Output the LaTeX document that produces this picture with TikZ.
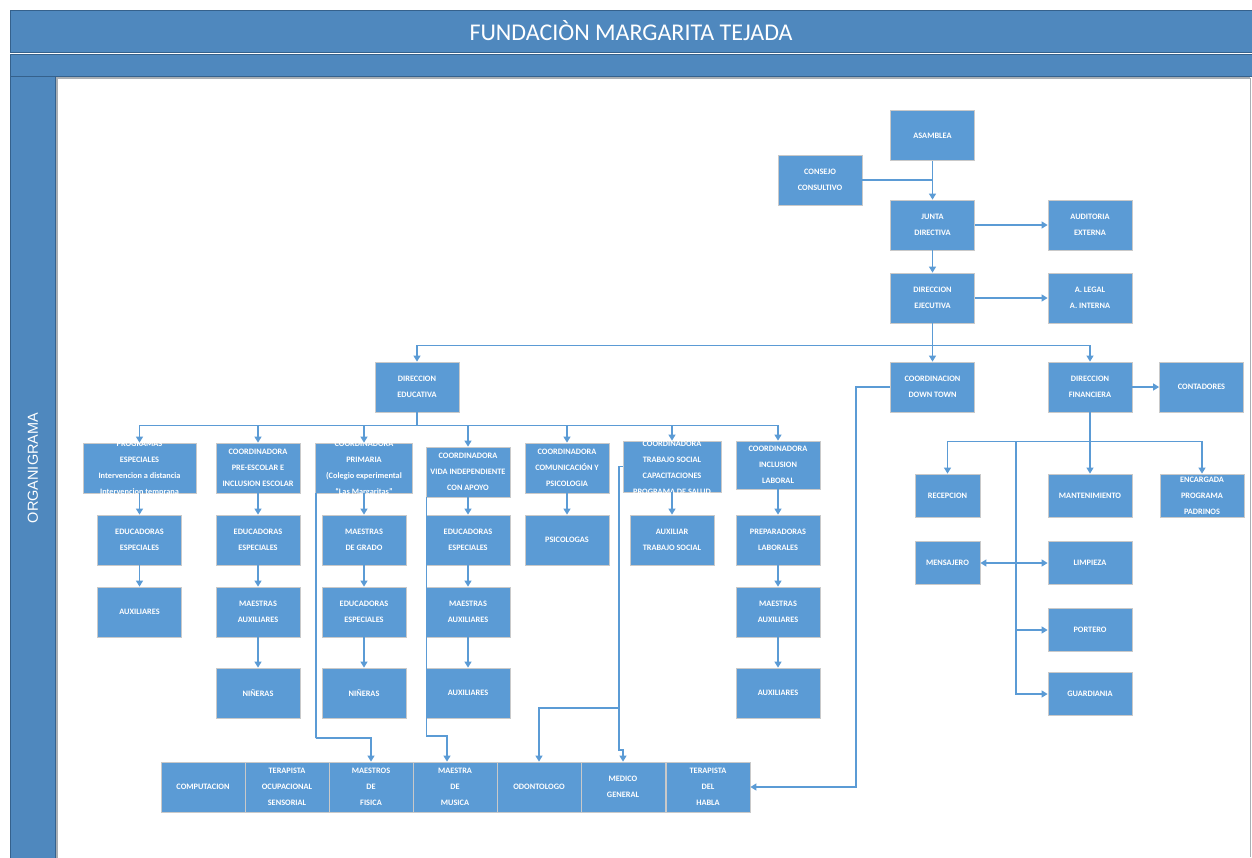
\documentclass[tikz,border=0pt]{standalone}
\usepackage{fontspec}
\setmainfont{Carlito}
\newfontfamily\arialfont{Liberation Sans}
\usetikzlibrary{arrows.meta}
\definecolor{barblue}{HTML}{4F88BE}
\definecolor{bardark}{HTML}{35618C}
\definecolor{boxblue}{HTML}{5B9BD5}
\definecolor{boxedge}{HTML}{C9C9C9}
\definecolor{lineblue}{HTML}{5B9BD5}
\definecolor{shadowgray}{HTML}{A9AEB3}
\begin{document}
\begin{tikzpicture}[x=1pt,y=-1pt,
  bx/.style={draw=boxedge, line width=0.8pt, fill=boxblue, text=white,
    font=\fontsize{8.3}{16}\selectfont\bfseries, align=center,
    minimum width=84pt, minimum height=50pt, inner sep=0pt},
  sbx/.style={bx, minimum width=65pt, minimum height=43pt},
  fbx/.style={bx, minimum height=43pt},
  btext/.style={text=white, font=\fontsize{8.3}{16}\selectfont\bfseries,
    align=center, inner sep=0pt},
  bar/.style={fill=barblue, draw=bardark, line width=1pt},
  ln/.style={draw=lineblue, line width=1.3pt},
  arr/.style={ln, -{Triangle[length=6pt,width=7pt]}},
  arrb/.style={ln, {Triangle[length=6pt,width=7pt]}-{Triangle[length=6pt,width=7pt]}}
]
\useasboundingbox (0,0) rectangle (1252,857);
\fill[white] (0,0) rectangle (1252,857);

% frame
\path[bar] (10,10) rectangle (1254,52);
\path[bar] (10,54) rectangle (1254,76);
\path[bar] (10,76) rectangle (55,860);
\draw[shadowgray, line width=2pt] (57,860) -- (57,78) -- (1250,78);
\draw[shadowgray, line width=1pt] (1250.5,78) -- (1250.5,857);
\node[text=white, font=\fontsize{24}{28}\selectfont] (title) at (631,31) {FUNDACIÒN MARGARITA TEJADA};
\node[rotate=90, text=white, font=\arialfont\fontsize{14.5}{16}\selectfont] (org) at (33,468) {ORGANIGRAMA};

% top hierarchy
\node[bx] (asam) at (932.5,135.5) {ASAMBLEA};
\node[bx] (consejo) at (820,180) {CONSEJO\\CONSULTIVO};
\node[bx] (junta) at (932.5,225) {JUNTA\\DIRECTIVA};
\node[bx] (audit) at (1090,225) {AUDITORIA\\EXTERNA};
\node[bx] (direj) at (932.5,298) {DIRECCION\\EJECUTIVA};
\node[bx] (legal) at (1090,298) {A. LEGAL\\A. INTERNA};

\node[bx] (diredu) at (417,387) {DIRECCION\\EDUCATIVA};
\node[bx] (downtown) at (932.5,387) {COORDINACION\\DOWN TOWN};
\node[bx] (dirfin) at (1090,387) {DIRECCION\\FINANCIERA};
\node[bx] (cont) at (1201.5,387) {CONTADORES};

% columns
\node[bx, minimum width=113pt] (c1) at (139.5,468) {};
\begin{scope}
  \clip (c1.south west) rectangle (c1.north east);
  \node[btext] at (c1.center) {PROGRAMAS\\ESPECIALES\\Intervencion a distancia\\Intervencion temprana};
\end{scope}
\node[bx] (c1b) at (139.5,540) {EDUCADORAS\\ESPECIALES};
\node[bx] (c1c) at (139.5,612) {AUXILIARES};

\node[bx] (c2) at (258,468) {COORDINADORA\\PRE-ESCOLAR E\\INCLUSION ESCOLAR};
\node[bx] (c2b) at (258,540) {EDUCADORAS\\ESPECIALES};
\node[bx] (c2c) at (258,612) {MAESTRAS\\AUXILIARES};
\node[bx] (c2d) at (258,693) {NIÑERAS};

\node[bx, minimum width=97pt] (c3) at (364,468) {};
\begin{scope}
  \clip (c3.south west) rectangle (c3.north east);
  \node[btext] at (c3.center) {COORDINADORA\\PRIMARIA\\(Colegio experimental\\“Las Margaritas”};
\end{scope}
\node[bx] (c3b) at (364,540) {MAESTRAS\\DE GRADO};
\node[bx] (c3c) at (364,612) {EDUCADORAS\\ESPECIALES};
\node[bx] (c3d) at (364,693) {NIÑERAS};

\node[bx] (c4) at (468,472) {COORDINADORA\\VIDA INDEPENDIENTE\\CON APOYO};
\node[bx] (c4b) at (468,540) {EDUCADORAS\\ESPECIALES};
\node[bx] (c4c) at (468,612) {MAESTRAS\\AUXILIARES};
\node[bx] (c4d) at (468,693) {AUXILIARES};

\node[bx] (c5) at (567,468) {COORDINADORA\\COMUNICACIÓN Y\\PSICOLOGIA};
\node[bx] (c5b) at (567,540) {PSICOLOGAS};

\node[bx, minimum width=98pt, minimum height=51pt] (c6) at (672,466.5) {};
\begin{scope}
  \clip (c6.south west) rectangle (c6.north east);
  \node[btext] at ([yshift=-1pt]c6.center) {COORDINADORA\\TRABAJO SOCIAL\\CAPACITACIONES\\PROGRAMA DE SALUD};
\end{scope}
\node[bx] (c6b) at (672,540) {AUXILIAR\\TRABAJO SOCIAL};

\node[bx, minimum height=48pt] (c7) at (778,465) {COORDINADORA\\INCLUSION\\LABORAL};
\node[bx] (c7b) at (778,540) {PREPARADORAS\\LABORALES};
\node[bx] (c7c) at (778,612) {MAESTRAS\\AUXILIARES};
\node[bx] (c7d) at (778,693) {AUXILIARES};

% bottom row
\node[bx] (comp) at (203,787) {COMPUTACION};
\node[bx] (terap) at (287,787) {TERAPISTA\\OCUPACIONAL\\SENSORIAL};
\node[bx] (fisica) at (371,787) {MAESTROS\\DE\\FISICA};
\node[bx] (musica) at (455,787) {MAESTRA\\DE\\MUSICA};
\node[bx] (odonto) at (539,787) {ODONTOLOGO};
\node[bx] (medico) at (623,787) {MEDICO\\GENERAL};
\node[bx] (habla) at (708,787) {TERAPISTA\\DEL\\HABLA};

% finance branch
\node[sbx] (recep) at (947.5,495.5) {RECEPCION};
\node[fbx] (mant) at (1090,495.5) {MANTENIMIENTO};
\node[fbx] (encarg) at (1202,495.5) {ENCARGADA\\PROGRAMA\\PADRINOS};
\node[sbx] (mens) at (947.5,563) {MENSAJERO};
\node[fbx] (limp) at (1090,563) {LIMPIEZA};
\node[fbx] (portero) at (1090,630) {PORTERO};
\node[fbx] (guard) at (1090,694) {GUARDIANIA};

% connectors top
\draw[arr] (asam.south) -- (junta.north);
\draw[ln] (consejo.east) -- (consejo.east -| junta.north);
\draw[arr] (junta.east) -- (audit.west);
\draw[arr] (junta.south) -- (direj.north);
\draw[arr] (direj.east) -- (legal.west);
\draw[arr] (direj.south) -- ++(0,22) -| (diredu.north);
\draw[arr] (direj.south) -- (downtown.north);
\draw[arr] (direj.south) -- ++(0,22) -| (dirfin.north);
\draw[arr] (dirfin.east) -- (cont.west);
\draw[arr] (downtown.west) -- ++(-34,0) |- (habla.east);

% education branch
\foreach \c in {c1,c2,c3,c4,c5,c6,c7}
  \draw[arr] (diredu.south) -- ++(0,13) -| (\c.north);
\draw[arr] (c1.south) -- (c1b.north);
\draw[arr] (c1b.south) -- (c1c.north);
\draw[arr] (c2.south) -- (c2b.north);
\draw[arr] (c2b.south) -- (c2c.north);
\draw[arr] (c2c.south) -- (c2d.north);
\draw[arr] (c3.south) -- (c3b.north);
\draw[arr] (c3b.south) -- (c3c.north);
\draw[arr] (c3c.south) -- (c3d.north);
\draw[arr] (c4.south) -- (c4b.north);
\draw[arr] (c4b.south) -- (c4c.north);
\draw[arr] (c4c.south) -- (c4d.north);
\draw[arr] (c5.south) -- (c5b.north);
\draw[arr] (c6.south) -- (c6b.north);
\draw[arr] (c7.south) -- (c7b.north);
\draw[arr] (c7b.south) -- (c7c.north);
\draw[arr] (c7c.south) -- (c7d.north);

% long lines to bottom row
\coordinate (k3) at (316,738);
\coordinate (k4) at (447,736);
\coordinate (t6) at (619,750);
\coordinate (o6) at (619,708);
\draw[arr] ([xshift=1pt]c3.south west) |- (k3) -| (fisica.north);
\draw[arr] ([xshift=1pt]c4.south west) |- (k4) -- (k4 |- musica.north);
\draw[arr] (c6.west) -| (t6) -| (medico.north);
\draw[arr] (o6) -| (odonto.north);

% finance connectors
\coordinate (v1) at (1016,441);
\draw[arr] (dirfin.south) -- (mant.north);
\draw[arr] (dirfin.south) -- ++(0,29) -| (recep.north);
\draw[arr] (dirfin.south) -- ++(0,29) -| (encarg.north);
\draw[arr] (v1) |- (portero.west);
\draw[arr] (v1) |- (guard.west);
\draw[arrb] (mens.east) -- (limp.west);
\end{tikzpicture}
\end{document}
